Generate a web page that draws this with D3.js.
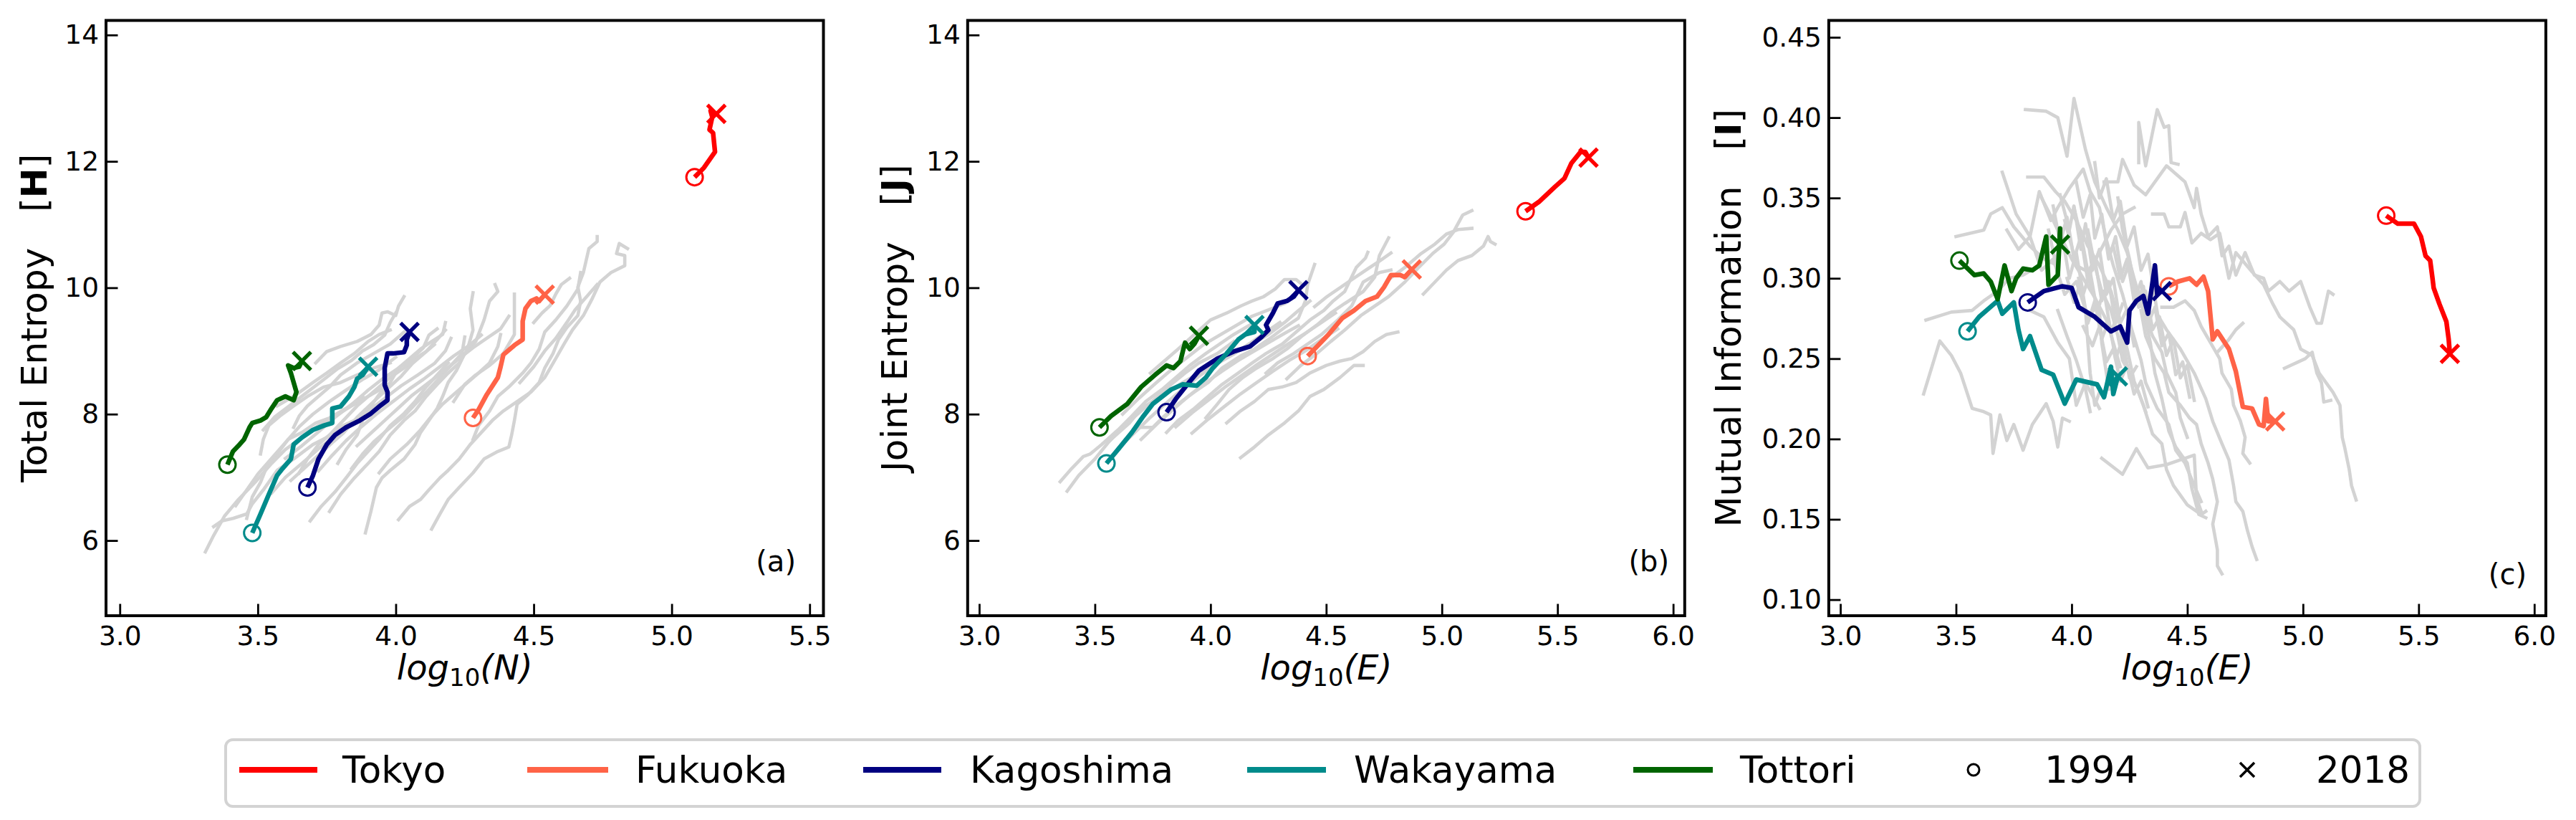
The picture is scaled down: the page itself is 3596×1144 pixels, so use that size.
<!DOCTYPE html>
<html><head><meta charset="utf-8">
<script src="https://cdn.jsdelivr.net/npm/d3@7"></script>
<style>
body{margin:0;background:#fff}
svg{display:block}
text{font-family:"DejaVu Sans",sans-serif;fill:#000}
</style>
</head><body>
<svg id="chart" width="3596" height="1144"></svg>
<script>
// ---------------- DATA ----------------
const cityNames  = ["Tokyo","Fukuoka","Kagoshima","Wakayama","Tottori"];
const cityColors = ["#ff0000","#ff6347","#000080","#008b8b","#006400"];
const yearLabels = ["1994","2018"];

const xTicksA  = [3.0,3.5,4.0,4.5,5.0,5.5];
const xTicksBC = [3.0,3.5,4.0,4.5,5.0,5.5,6.0];
const yTicksAB = [6,8,10,12,14];
const yTicksC  = [0.10,0.15,0.20,0.25,0.30,0.35,0.40,0.45];

// Panel (a): log10(N) vs Total Entropy H
const tokyoA = [[5.083,11.75],[5.117,11.90],[5.157,12.15],[5.150,12.45],[5.137,12.50],[5.147,12.70],[5.141,12.80],[5.162,12.75]];
const fukuokaA = [[4.28,7.94],[4.30,8.07],[4.33,8.31],[4.37,8.58],[4.38,8.75],[4.39,8.94],[4.43,9.09],[4.46,9.18],[4.46,9.47],[4.47,9.67],[4.49,9.79],[4.51,9.83],[4.52,9.79],[4.54,9.89]];
const kagoshimaA = [[3.68,6.84],[3.70,7.03],[3.72,7.29],[3.75,7.52],[3.78,7.67],[3.82,7.79],[3.87,7.90],[3.91,8.01],[3.94,8.12],[3.97,8.22],[3.97,8.35],[3.96,8.46],[3.96,8.73],[3.97,8.96],[3.99,8.96],[4.03,8.98],[4.04,9.09],[4.04,9.18],[4.05,9.30]];
const wakayamaA = [[3.48,6.12],[3.51,6.42],[3.54,6.73],[3.57,7.03],[3.59,7.14],[3.62,7.29],[3.63,7.52],[3.66,7.63],[3.70,7.75],[3.74,7.82],[3.77,7.86],[3.77,8.09],[3.80,8.12],[3.83,8.28],[3.85,8.43],[3.86,8.56],[3.88,8.62],[3.90,8.75]];
const tottoriA = [[3.39,7.20],[3.41,7.41],[3.43,7.50],[3.45,7.60],[3.47,7.79],[3.48,7.86],[3.51,7.90],[3.53,7.95],[3.55,8.09],[3.57,8.22],[3.60,8.28],[3.63,8.22],[3.64,8.35],[3.63,8.50],[3.62,8.65],[3.61,8.77],[3.63,8.73],[3.65,8.75],[3.66,8.84]];
const othersA = [
 [[3.31,5.82],[3.34,6.08],[3.38,6.39],[3.43,6.65],[3.49,6.92],[3.55,7.22],[3.60,7.44],[3.66,7.63],[3.72,7.82],[3.78,7.97],[3.84,8.13],[3.90,8.28],[3.96,8.43]],
 [[3.34,6.22],[3.37,6.31],[3.41,6.35],[3.46,6.42],[3.48,6.58],[3.52,6.80],[3.57,7.11],[3.63,7.29],[3.70,7.52],[3.75,7.63],[3.81,7.82],[3.87,7.94],[3.92,8.09]],
 [[3.46,6.35],[3.48,6.69],[3.51,6.92],[3.53,7.14],[3.57,7.37],[3.61,7.60],[3.66,7.71],[3.71,7.86],[3.76,7.94],[3.82,8.09],[3.88,8.28]],
 [[3.51,7.37],[3.52,7.60],[3.54,7.82],[3.58,7.97],[3.63,8.13],[3.68,8.28],[3.74,8.43],[3.80,8.50],[3.86,8.62],[3.92,8.73],[3.98,8.81]],
 [[3.63,7.79],[3.65,7.97],[3.68,8.13],[3.72,8.28],[3.76,8.43],[3.80,8.62],[3.86,8.81],[3.92,8.96],[3.98,9.11],[4.03,9.30]],
 [[3.57,8.13],[3.64,8.31],[3.70,8.50],[3.75,8.65],[3.80,8.81],[3.85,8.96],[3.90,9.15],[3.94,9.26],[3.98,9.33]],
 [[3.69,6.31],[3.73,6.54],[3.78,6.77],[3.82,6.99],[3.86,7.22],[3.90,7.41],[3.94,7.60],[3.98,7.82],[4.03,8.01],[4.07,8.20],[4.11,8.43],[4.15,8.62],[4.19,8.81]],
 [[3.76,6.46],[3.80,6.73],[3.85,6.99],[3.90,7.22],[3.94,7.41],[3.98,7.67],[4.03,7.90],[4.07,8.05],[4.11,8.28],[4.15,8.47],[4.19,8.65],[4.23,8.81],[4.26,9.03],[4.28,9.33],[4.27,9.67],[4.28,9.92]],
 [[3.79,7.22],[3.82,7.44],[3.86,7.67],[3.88,7.90],[3.91,8.13],[3.94,8.31],[3.98,8.50],[4.01,8.73],[4.05,8.88],[4.09,9.03],[4.13,9.15],[4.17,9.26],[4.18,9.45]],
 [[3.89,6.12],[3.91,6.46],[3.93,6.84],[3.95,6.99],[3.98,7.11],[4.03,7.29],[4.07,7.52],[4.09,7.71],[4.12,7.90],[4.15,8.09],[4.17,8.28],[4.19,8.50],[4.22,8.69],[4.25,8.96],[4.29,9.15],[4.32,9.49],[4.34,9.79],[4.37,9.94],[4.36,10.05]],
 [[4.01,6.33],[4.05,6.54],[4.09,6.65],[4.12,6.80],[4.16,6.99],[4.19,7.11],[4.23,7.29],[4.27,7.52],[4.31,7.71],[4.35,7.90],[4.39,8.05],[4.44,8.20],[4.49,8.35],[4.54,8.58],[4.58,8.88],[4.61,9.11],[4.64,9.33],[4.68,9.56],[4.71,9.81],[4.74,10.09],[4.78,10.24],[4.83,10.35],[4.83,10.51],[4.80,10.54],[4.81,10.70],[4.84,10.62]],
 [[4.13,6.18],[4.16,6.42],[4.19,6.65],[4.23,6.84],[4.28,7.07],[4.32,7.29],[4.37,7.41],[4.41,7.48],[4.42,7.67],[4.43,7.90],[4.44,8.16],[4.48,8.31],[4.52,8.50],[4.54,8.73],[4.57,8.96],[4.59,9.18],[4.62,9.37],[4.66,9.56],[4.67,9.79],[4.66,10.01],[4.68,10.24],[4.69,10.43],[4.70,10.62],[4.73,10.73],[4.73,10.81]],
 [[4.21,8.20],[4.25,8.47],[4.29,8.62],[4.34,8.77],[4.39,8.96],[4.43,9.26],[4.43,9.64],[4.43,9.90]],
 [[4.28,7.60],[4.30,7.82],[4.34,8.05],[4.37,8.28],[4.41,8.43],[4.46,8.65],[4.49,8.81],[4.52,9.03],[4.54,9.30],[4.58,9.49],[4.62,9.71],[4.66,9.98],[4.67,10.24]],
 [[3.65,7.07],[3.68,7.29],[3.72,7.52],[3.76,7.67],[3.81,7.90],[3.86,8.13],[3.90,8.28],[3.94,8.43],[3.98,8.58],[4.03,8.73],[4.07,8.88],[4.11,8.99],[4.15,9.18],[4.18,9.33]],
 [[3.71,8.81],[3.75,8.99],[3.80,9.07],[3.86,9.15],[3.91,9.26],[3.94,9.41],[3.95,9.60],[3.97,9.62],[4.00,9.56],[4.01,9.71],[4.03,9.86]],
 [[3.84,7.14],[3.88,7.37],[3.92,7.56],[3.97,7.75],[4.03,7.97],[4.08,8.20],[4.12,8.39],[4.16,8.58],[4.20,8.77],[4.24,8.96],[4.25,9.22]],
 [[3.94,7.07],[3.98,7.29],[4.04,7.52],[4.09,7.75],[4.13,7.97],[4.17,8.16],[4.22,8.35],[4.26,8.50],[4.30,8.65],[4.34,8.81],[4.37,9.07],[4.38,9.26]],
 [[3.55,6.75],[3.60,7.00],[3.66,7.22],[3.72,7.45],[3.78,7.66],[3.84,7.85],[3.90,8.05],[3.96,8.25],[4.02,8.45],[4.08,8.62],[4.14,8.80],[4.18,9.00],[4.20,9.20]],
 [[3.60,7.30],[3.66,7.50],[3.72,7.72],[3.78,7.95],[3.84,8.15],[3.90,8.38],[3.95,8.55],[4.00,8.70],[4.05,8.85],[4.10,9.05],[4.12,9.25],[4.15,9.35]],
 [[3.72,7.10],[3.77,7.35],[3.82,7.58],[3.87,7.78],[3.93,8.00],[3.99,8.20],[4.05,8.40],[4.10,8.55],[4.16,8.75],[4.21,8.92],[4.27,9.10],[4.31,9.25]],
 [[3.52,7.75],[3.56,7.95],[3.62,8.15],[3.68,8.35],[3.74,8.55],[3.79,8.72],[3.84,8.85],[3.88,9.00],[3.92,9.10],[3.96,9.25],[3.98,9.45],[4.00,9.60]],
 [[3.86,7.50],[3.91,7.70],[3.96,7.90],[4.01,8.10],[4.06,8.30],[4.12,8.50],[4.18,8.70],[4.23,8.88],[4.28,9.05],[4.33,9.20],[4.38,9.35],[4.41,9.55]],
 [[3.62,6.95],[3.67,7.15],[3.72,7.35],[3.77,7.55],[3.81,7.70],[3.86,7.95],[3.92,8.20],[3.97,8.40],[4.02,8.60],[4.06,8.80],[4.10,8.95],[4.14,9.10]],
 [[3.42,6.55],[3.46,6.80],[3.50,7.05],[3.55,7.30],[3.60,7.55],[3.65,7.80],[3.70,8.00],[3.76,8.20],[3.82,8.38],[3.88,8.55],[3.94,8.70],[4.00,8.90]],
 [[4.45,8.50],[4.50,8.75],[4.54,9.00],[4.58,9.20],[4.62,9.45],[4.65,9.65],[4.70,9.90],[4.73,10.05]],
 [[4.50,9.45],[4.53,9.60],[4.56,9.72],[4.58,9.90],[4.60,10.05],[4.63,10.15]]
];

// Panel (b): log10(E) vs Joint Entropy J
const tokyoB = [[5.362,11.21],[5.42,11.36],[5.49,11.60],[5.53,11.73],[5.56,11.97],[5.60,12.15],[5.62,12.15],[5.634,12.06]];
const fukuokaB = [[4.42,8.92],[4.46,9.07],[4.51,9.26],[4.57,9.52],[4.62,9.64],[4.67,9.79],[4.72,9.86],[4.75,10.01],[4.78,10.20],[4.82,10.20],[4.84,10.17],[4.87,10.29]];
const kagoshimaB = [[3.81,8.03],[3.85,8.24],[3.90,8.47],[3.95,8.69],[4.03,8.88],[4.10,8.99],[4.17,9.07],[4.22,9.22],[4.25,9.33],[4.24,9.41],[4.27,9.60],[4.29,9.75],[4.33,9.79],[4.36,9.86],[4.38,9.96]];
const wakayamaB = [[3.55,7.22],[3.60,7.44],[3.66,7.71],[3.71,7.97],[3.75,8.16],[3.83,8.39],[3.88,8.47],[3.94,8.45],[3.98,8.58],[4.01,8.73],[4.07,8.96],[4.12,9.18],[4.15,9.26],[4.19,9.30],[4.19,9.41]];
const tottoriB = [[3.52,7.79],[3.57,7.97],[3.64,8.16],[3.70,8.43],[3.76,8.62],[3.81,8.77],[3.84,8.73],[3.87,8.84],[3.88,8.99],[3.89,9.13],[3.91,9.03],[3.93,9.11],[3.95,9.24]];
const othersB = [
 [[3.35,6.93],[3.40,7.14],[3.45,7.33],[3.48,7.37],[3.53,7.52],[3.60,7.75],[3.66,7.97],[3.72,8.20],[3.79,8.39],[3.85,8.58],[3.91,8.77],[3.98,8.96],[4.04,9.11],[4.10,9.26],[4.17,9.41]],
 [[3.38,6.78],[3.43,7.03],[3.50,7.29],[3.56,7.56],[3.62,7.79],[3.70,8.05],[3.76,8.24],[3.83,8.47],[3.89,8.65],[3.95,8.81],[4.03,8.96],[4.10,9.15]],
 [[3.74,8.65],[3.80,8.84],[3.86,9.03],[3.93,9.26],[4.00,9.49],[4.07,9.60],[4.13,9.71],[4.18,9.79],[4.23,9.86],[4.28,9.98],[4.32,10.13],[4.37,10.13],[4.39,10.07]],
 [[3.69,7.79],[3.75,7.79],[3.80,7.97],[3.86,8.16],[3.93,8.35],[3.99,8.50],[4.05,8.73],[4.13,8.92],[4.19,9.03],[4.25,9.18],[4.32,9.37],[4.38,9.52],[4.41,9.79],[4.42,10.05],[4.45,10.37]],
 [[3.81,7.71],[3.86,7.90],[3.93,8.09],[3.99,8.28],[4.05,8.47],[4.12,8.65],[4.18,8.81],[4.24,8.96],[4.31,9.11],[4.37,9.30],[4.43,9.49],[4.49,9.64],[4.53,9.79],[4.58,9.94],[4.61,10.17],[4.63,10.32],[4.67,10.47],[4.68,10.56]],
 [[3.98,7.94],[4.03,8.16],[4.08,8.39],[4.14,8.58],[4.20,8.73],[4.27,8.88],[4.33,9.03],[4.39,9.22],[4.46,9.41],[4.52,9.60],[4.58,9.75],[4.66,9.94],[4.71,10.17],[4.73,10.51],[4.77,10.79]],
 [[4.24,8.65],[4.29,8.81],[4.36,8.96],[4.42,9.11],[4.48,9.26],[4.55,9.49],[4.61,9.71],[4.63,9.86],[4.66,10.09],[4.73,10.24],[4.78,10.28]],
 [[4.33,8.56],[4.39,8.77],[4.46,8.96],[4.52,9.15],[4.58,9.33],[4.65,9.56],[4.71,9.71],[4.77,9.86],[4.84,10.09],[4.90,10.32],[4.96,10.54],[5.01,10.69],[5.05,10.88],[5.09,11.15],[5.13,11.22]],
 [[4.92,9.90],[4.97,10.09],[5.02,10.28],[5.07,10.43],[5.13,10.51],[5.18,10.66],[5.20,10.81],[5.21,10.73],[5.23,10.69]],
 [[4.77,10.13],[4.84,10.32],[4.91,10.54],[4.97,10.69],[5.02,10.85],[5.07,10.92],[5.13,10.94]],
 [[4.07,7.86],[4.13,8.05],[4.19,8.20],[4.25,8.39],[4.31,8.43],[4.37,8.50],[4.43,8.65],[4.50,8.77],[4.56,8.84],[4.61,8.88],[4.66,8.99],[4.71,9.15],[4.76,9.26],[4.81,9.30]],
 [[4.13,7.31],[4.19,7.48],[4.25,7.67],[4.32,7.86],[4.38,8.05],[4.43,8.28],[4.49,8.39],[4.56,8.58],[4.62,8.77],[4.66,8.77]],
 [[3.57,7.60],[3.65,7.86],[3.70,8.09],[3.80,8.31],[3.88,8.50],[3.95,8.65],[4.03,8.81],[4.10,8.96],[4.18,9.11],[4.25,9.26],[4.32,9.45],[4.38,9.64],[4.43,9.79]],
 [[3.60,7.45],[3.67,7.70],[3.74,7.95],[3.81,8.18],[3.88,8.40],[3.95,8.60],[4.02,8.78],[4.10,8.95],[4.17,9.12],[4.24,9.30],[4.30,9.45]],
 [[3.70,7.60],[3.77,7.85],[3.84,8.08],[3.91,8.30],[3.98,8.50],[4.05,8.68],[4.12,8.85],[4.19,9.00],[4.26,9.15],[4.33,9.30],[4.38,9.40]],
 [[3.62,8.00],[3.69,8.25],[3.76,8.48],[3.83,8.70],[3.90,8.90],[3.97,9.10],[4.04,9.25],[4.11,9.40],[4.18,9.55],[4.25,9.65],[4.32,9.75]],
 [[3.85,7.80],[3.92,8.02],[3.99,8.22],[4.06,8.42],[4.13,8.60],[4.20,8.78],[4.27,8.95],[4.34,9.12],[4.41,9.28],[4.48,9.45],[4.54,9.60]],
 [[3.92,7.70],[3.99,7.92],[4.06,8.12],[4.13,8.32],[4.20,8.50],[4.27,8.68],[4.34,8.85],[4.41,9.00],[4.48,9.18],[4.55,9.35]],
 [[4.45,9.70],[4.50,9.85],[4.56,10.00],[4.62,10.15],[4.68,10.30],[4.73,10.42],[4.78,10.55]]
];

// Panel (c): log10(E) vs Mutual Information I
const tokyoC = [[5.36,0.339],[5.41,0.334],[5.48,0.334],[5.51,0.326],[5.53,0.314],[5.55,0.311],[5.56,0.300],[5.565,0.294],[5.59,0.284],[5.62,0.273],[5.63,0.262],[5.635,0.253]];
const fukuokaC = [[4.42,0.295],[4.46,0.298],[4.51,0.300],[4.54,0.296],[4.57,0.301],[4.59,0.292],[4.61,0.262],[4.63,0.267],[4.68,0.256],[4.71,0.242],[4.74,0.220],[4.78,0.219],[4.81,0.209],[4.83,0.208],[4.84,0.225],[4.85,0.211],[4.88,0.211]];
const kagoshimaC = [[3.81,0.285],[3.88,0.292],[3.96,0.295],[4.00,0.294],[4.03,0.282],[4.10,0.276],[4.17,0.267],[4.21,0.270],[4.24,0.260],[4.25,0.280],[4.28,0.286],[4.31,0.289],[4.33,0.278],[4.36,0.308],[4.37,0.290],[4.39,0.292]];
const wakayamaC = [[3.55,0.267],[3.60,0.276],[3.68,0.286],[3.70,0.278],[3.75,0.285],[3.77,0.268],[3.79,0.256],[3.82,0.264],[3.87,0.243],[3.92,0.240],[3.97,0.222],[4.02,0.237],[4.11,0.234],[4.14,0.226],[4.17,0.245],[4.18,0.228],[4.20,0.239]];
const tottoriC = [[3.515,0.311],[3.58,0.302],[3.62,0.303],[3.65,0.298],[3.68,0.287],[3.71,0.308],[3.74,0.292],[3.76,0.300],[3.79,0.306],[3.83,0.305],[3.86,0.308],[3.89,0.326],[3.90,0.296],[3.94,0.302],[3.95,0.331],[3.95,0.321]];
const othersC = [
 [[3.80,0.405],[3.89,0.404],[3.94,0.400],[3.98,0.376],[4.01,0.412],[4.06,0.380],[4.10,0.360],[4.15,0.344],[4.20,0.330],[4.24,0.316],[4.27,0.300],[4.31,0.280],[4.34,0.260],[4.36,0.241],[4.39,0.225],[4.42,0.205],[4.45,0.195],[4.50,0.185],[4.52,0.169],[4.55,0.153],[4.58,0.151]],
 [[4.29,0.372],[4.29,0.397],[4.32,0.370],[4.37,0.405],[4.40,0.394],[4.42,0.395],[4.43,0.372],[4.46,0.371]],
 [[4.14,0.360],[4.20,0.360],[4.22,0.374],[4.27,0.358],[4.32,0.352],[4.41,0.370],[4.49,0.360],[4.53,0.344],[4.54,0.356],[4.56,0.340],[4.59,0.326],[4.63,0.332],[4.65,0.314],[4.68,0.320],[4.71,0.302],[4.75,0.316],[4.79,0.302],[4.83,0.300],[4.85,0.292],[4.90,0.298],[4.94,0.292],[4.99,0.298],[5.03,0.282],[5.06,0.272],[5.08,0.272],[5.11,0.292],[5.13,0.290]],
 [[4.35,0.340],[4.40,0.340],[4.42,0.332],[4.47,0.332],[4.49,0.341],[4.52,0.322],[4.56,0.328],[4.60,0.324],[4.64,0.328],[4.68,0.300],[4.71,0.316],[4.78,0.304],[4.83,0.296],[4.87,0.284],[4.90,0.276],[4.96,0.268],[4.99,0.256],[5.04,0.252],[5.07,0.241],[5.11,0.233],[5.13,0.229],[5.16,0.221],[5.17,0.201],[5.18,0.195],[5.20,0.181],[5.21,0.171],[5.23,0.162]],
 [[4.92,0.244],[5.01,0.250],[5.04,0.254],[5.06,0.241],[5.08,0.235],[5.09,0.223],[5.12,0.224]],
 [[3.36,0.228],[3.43,0.261],[3.48,0.252],[3.52,0.241],[3.57,0.219],[3.62,0.217],[3.65,0.215],[3.66,0.191],[3.69,0.215],[3.72,0.199],[3.75,0.209],[3.79,0.193],[3.83,0.209],[3.89,0.222],[3.92,0.211],[3.94,0.195],[3.96,0.213],[3.99,0.211]],
 [[3.37,0.274],[3.48,0.279],[3.57,0.280],[3.62,0.286],[3.68,0.292],[3.73,0.300],[3.79,0.302],[3.86,0.308]],
 [[3.50,0.326],[3.62,0.330],[3.65,0.340],[3.70,0.344],[3.75,0.332],[3.82,0.320],[3.88,0.312],[3.94,0.308]],
 [[3.70,0.366],[3.76,0.340],[3.82,0.326],[3.86,0.354],[3.91,0.336],[3.94,0.344],[3.99,0.356],[4.05,0.368],[4.08,0.354],[4.12,0.344],[4.15,0.324],[4.18,0.308],[4.22,0.290],[4.26,0.268],[4.30,0.249],[4.32,0.235],[4.37,0.219],[4.42,0.209],[4.45,0.193],[4.49,0.185],[4.53,0.171],[4.56,0.161]],
 [[3.81,0.363],[3.88,0.363],[3.93,0.354],[3.97,0.348],[4.02,0.336],[4.07,0.320],[4.12,0.308],[4.17,0.292],[4.20,0.276],[4.24,0.256],[4.27,0.236],[4.31,0.221],[4.35,0.203],[4.39,0.197],[4.41,0.181],[4.44,0.171],[4.47,0.165],[4.50,0.159],[4.54,0.155],[4.56,0.153],[4.58,0.155]],
 [[4.13,0.188],[4.22,0.178],[4.28,0.194],[4.33,0.182],[4.41,0.184],[4.53,0.190],[4.54,0.163],[4.56,0.155]],
 [[4.30,0.280],[4.32,0.264],[4.36,0.250],[4.40,0.241],[4.42,0.229],[4.47,0.221],[4.51,0.213],[4.54,0.209],[4.56,0.197],[4.59,0.185],[4.61,0.175],[4.63,0.161],[4.61,0.147],[4.63,0.131],[4.63,0.121],[4.65,0.116]],
 [[4.36,0.280],[4.41,0.268],[4.47,0.256],[4.53,0.241],[4.58,0.225],[4.61,0.211],[4.65,0.197],[4.68,0.187],[4.70,0.171],[4.71,0.161],[4.74,0.155],[4.76,0.143],[4.78,0.133],[4.80,0.125]],
 [[4.39,0.282],[4.44,0.282],[4.49,0.286],[4.53,0.280],[4.56,0.270],[4.60,0.260],[4.64,0.250],[4.65,0.241],[4.69,0.231],[4.70,0.221],[4.73,0.211],[4.75,0.201],[4.74,0.191],[4.77,0.185]],
 [[4.63,0.254],[4.68,0.262],[4.71,0.268],[4.74,0.272]],
 [[4.01,0.344],[4.05,0.320],[4.08,0.296],[4.12,0.280],[4.13,0.260],[4.15,0.241],[4.16,0.231]],
 [[4.07,0.330],[4.10,0.308],[4.13,0.292],[4.17,0.280],[4.20,0.264],[4.22,0.249],[4.25,0.241],[4.29,0.229],[4.32,0.217]],
 [[4.20,0.350],[4.22,0.330],[4.25,0.312],[4.27,0.296],[4.31,0.280],[4.35,0.264],[4.39,0.254],[4.41,0.241],[4.45,0.229],[4.47,0.213],[4.50,0.201]],
 [[4.03,0.300],[4.06,0.280],[4.07,0.260],[4.08,0.241],[4.10,0.221],[4.12,0.229]],
 [[3.94,0.280],[3.98,0.264],[4.02,0.249],[4.06,0.231],[4.08,0.217]],
 [[3.82,0.280],[3.88,0.276],[3.94,0.260],[3.99,0.250],[4.02,0.221],[4.06,0.235],[4.12,0.219]],
 [[3.97,0.336],[4.00,0.320],[4.02,0.308],[4.07,0.304],[4.12,0.316],[4.17,0.330],[4.22,0.340],[4.27,0.344]],
 [[3.87,0.350],[3.92,0.336],[3.96,0.324],[4.00,0.312],[4.05,0.300],[4.10,0.288],[4.15,0.274],[4.18,0.260],[4.21,0.245]],
 [[3.95,0.352],[3.99,0.330],[4.01,0.345],[4.04,0.318],[4.06,0.334],[4.09,0.305],[4.12,0.318],[4.15,0.290],[4.18,0.300],[4.21,0.272],[4.24,0.281],[4.27,0.258]],
 [[4.02,0.360],[4.05,0.338],[4.08,0.352],[4.10,0.325],[4.13,0.340],[4.16,0.312],[4.19,0.326],[4.22,0.298],[4.25,0.310],[4.28,0.285],[4.31,0.295],[4.34,0.268]],
 [[3.90,0.330],[3.93,0.310],[3.96,0.326],[3.99,0.300],[4.02,0.316],[4.05,0.290],[4.08,0.304],[4.11,0.280],[4.14,0.292],[4.17,0.266],[4.20,0.278],[4.23,0.250]],
 [[4.10,0.372],[4.12,0.350],[4.15,0.362],[4.18,0.336],[4.21,0.348],[4.24,0.320],[4.27,0.332],[4.30,0.305],[4.33,0.315],[4.36,0.288],[4.38,0.270]],
 [[3.98,0.300],[4.01,0.285],[4.04,0.298],[4.07,0.272],[4.10,0.286],[4.13,0.262],[4.16,0.274],[4.19,0.250],[4.22,0.262],[4.25,0.238],[4.28,0.245]],
 [[4.18,0.320],[4.21,0.300],[4.24,0.312],[4.27,0.286],[4.30,0.298],[4.33,0.272],[4.36,0.282],[4.39,0.258],[4.42,0.266],[4.45,0.240],[4.48,0.248],[4.51,0.226]],
 [[4.05,0.270],[4.09,0.258],[4.12,0.270],[4.15,0.248],[4.18,0.256],[4.21,0.236],[4.24,0.246],[4.27,0.228],[4.30,0.236],[4.33,0.220]],
 [[3.92,0.345],[3.95,0.322],[3.98,0.338],[4.01,0.312],[4.04,0.326],[4.07,0.298],[4.10,0.312],[4.13,0.286],[4.16,0.298],[4.19,0.272],[4.22,0.284]],
 [[4.26,0.300],[4.29,0.282],[4.32,0.292],[4.35,0.268],[4.38,0.276],[4.41,0.252],[4.44,0.262],[4.47,0.238],[4.50,0.246],[4.53,0.224]],
 [[3.72,0.330],[3.77,0.318],[3.82,0.326],[3.87,0.305],[3.92,0.312],[3.97,0.290],[4.02,0.298],[4.07,0.276],[4.12,0.284]]
];

// ---------------- DRAWING ----------------
const svg = d3.select("#chart");
svg.append("rect").attr("width",3596).attr("height",1144).attr("fill","#fff");

const panels = [
  {left:148, right:1149.5, xDomain:[2.95,5.55], yDomain:[4.81,14.23], xTicks:xTicksA, yTicks:yTicksAB, yFmt:d3.format("d"),
   cities:[tokyoA,fukuokaA,kagoshimaA,wakayamaA,tottoriA], others:othersA,
   yLabel:["Total Entropy","[","H","]"], xVar:"N", yLabelX:65, tag:"(a)", tagX:1111, tagY:797},
  {left:1350.8, right:2351.8, xDomain:[2.95,6.05], yDomain:[4.81,14.23], xTicks:xTicksBC, yTicks:yTicksAB, yFmt:d3.format("d"),
   cities:[tokyoB,fukuokaB,kagoshimaB,wakayamaB,tottoriB], others:othersB,
   yLabel:["Joint Entropy","[","J","]"], xVar:"E", yLabelX:1266, tag:"(b)", tagX:2330, tagY:797},
  {left:2552.9, right:3553.9, xDomain:[2.95,6.05], yDomain:[0.0900,0.4605], xTicks:xTicksBC, yTicks:yTicksC, yFmt:d3.format(".2f"),
   cities:[tokyoC,fukuokaC,kagoshimaC,wakayamaC,tottoriC], others:othersC,
   yLabel:["Mutual Information","[","I","]"], xVar:"E", yLabelX:2430, tag:"(c)", tagX:3527, tagY:815}
];
const axTop = 28.5, axBottom = 859;

panels.forEach(p => {
  const x = d3.scaleLinear().domain(p.xDomain).range([p.left, p.right]);
  const y = d3.scaleLinear().domain(p.yDomain).range([axBottom, axTop]);
  const line = d3.line().x(d => x(d[0])).y(d => y(d[1]));
  const g = svg.append("g");

  g.append("g").selectAll("path").data(p.others).join("path")
    .attr("d", line).attr("fill","none").attr("stroke","#d3d3d3")
    .attr("stroke-width",4.6).attr("stroke-linejoin","round").attr("stroke-linecap","square");

  p.cities.forEach((pts, i) => {
    const col = cityColors[i];
    g.append("path").datum(pts).attr("d", line).attr("fill","none")
      .attr("stroke", col).attr("stroke-width",6.5).attr("stroke-linejoin","round");
    const s = pts[0], e = pts[pts.length-1];
    g.append("circle").attr("cx", x(s[0])).attr("cy", y(s[1])).attr("r", 11.5)
      .attr("fill","none").attr("stroke", col).attr("stroke-width",3);
    const ex = x(e[0]), ey = y(e[1]), k = 12.5;
    g.append("path").attr("d", `M${ex-k},${ey-k}L${ex+k},${ey+k}M${ex-k},${ey+k}L${ex+k},${ey-k}`)
      .attr("stroke", col).attr("stroke-width",5.3).attr("fill","none");
  });

  const xa = g.append("g").attr("transform",`translate(0,${axBottom})`)
    .call(d3.axisBottom(x).tickValues(p.xTicks).tickFormat(d3.format(".1f")).tickSizeInner(-16.5).tickSizeOuter(0).tickPadding(14));
  const ya = g.append("g").attr("transform",`translate(${p.left},0)`)
    .call(d3.axisLeft(y).tickValues(p.yTicks).tickFormat(p.yFmt).tickSizeInner(-16.5).tickSizeOuter(0).tickPadding(10));
  [xa, ya].forEach(a => {
    a.select(".domain").remove();
    a.selectAll(".tick line").attr("stroke","#000").attr("stroke-width",2.8);
    a.selectAll(".tick text").attr("font-size",37.5).attr("font-family","DejaVu Sans").attr("fill","#000");
  });

  g.append("rect").attr("x",p.left).attr("y",axTop).attr("width",p.right-p.left).attr("height",axBottom-axTop)
    .attr("fill","none").attr("stroke","#000").attr("stroke-width",4);

  const yl = g.append("text").attr("transform",`translate(${p.yLabelX},${(axTop+axBottom)/2}) rotate(-90)`)
    .attr("text-anchor","middle").attr("font-size",50);
  yl.append("tspan").text(p.yLabel[0]);
  yl.append("tspan").attr("dx",50).text(p.yLabel[1]);
  yl.append("tspan").attr("font-weight","bold").text(p.yLabel[2]);
  yl.append("tspan").text(p.yLabel[3]);

  const xl = g.append("text").attr("x",(p.left+p.right)/2).attr("y",948)
    .attr("text-anchor","middle").attr("font-size",48);
  xl.append("tspan").attr("font-style","italic").text("log");
  xl.append("tspan").attr("font-size",34).attr("dy",9).text("10");
  xl.append("tspan").attr("font-style","italic").attr("dy",-9).text("(" + p.xVar + ")");

  g.append("text").attr("x",p.tagX).attr("y",p.tagY).attr("text-anchor","end")
    .attr("font-size",40).text(p.tag);
});

// ---------------- LEGEND ----------------
const lg = svg.append("g");
lg.append("rect").attr("x",315).attr("y",1032).attr("width",3378-315).attr("height",1125-1032)
  .attr("rx",10).attr("fill","#fff").attr("stroke","#d3d3d3").attr("stroke-width",4);
const lineHandles = [[334,443,478],[736,849,887],[1205,1314,1354],[1741,1851,1890],[2280,2391,2429]];
const legY = 1074, legBase = 1092;
cityNames.forEach((n,i) => {
  const h = lineHandles[i];
  lg.append("line").attr("x1",h[0]).attr("x2",h[1]).attr("y1",legY).attr("y2",legY)
    .attr("stroke",cityColors[i]).attr("stroke-width",8);
  lg.append("text").attr("x",h[2]).attr("y",legBase).attr("font-size",51.5).text(n);
});
lg.append("circle").attr("cx",2755).attr("cy",legY).attr("r",8).attr("fill","none")
  .attr("stroke","#000").attr("stroke-width",3);
lg.append("text").attr("x",2854).attr("y",legBase).attr("font-size",51.5).text(yearLabels[0]);
const mk = 10, mx = 3137;
lg.append("path").attr("d",`M${mx-mk},${legY-mk}L${mx+mk},${legY+mk}M${mx-mk},${legY+mk}L${mx+mk},${legY-mk}`)
  .attr("stroke","#000").attr("stroke-width",3.5);
lg.append("text").attr("x",3233).attr("y",legBase).attr("font-size",51.5).text(yearLabels[1]);
</script>
</body></html>
